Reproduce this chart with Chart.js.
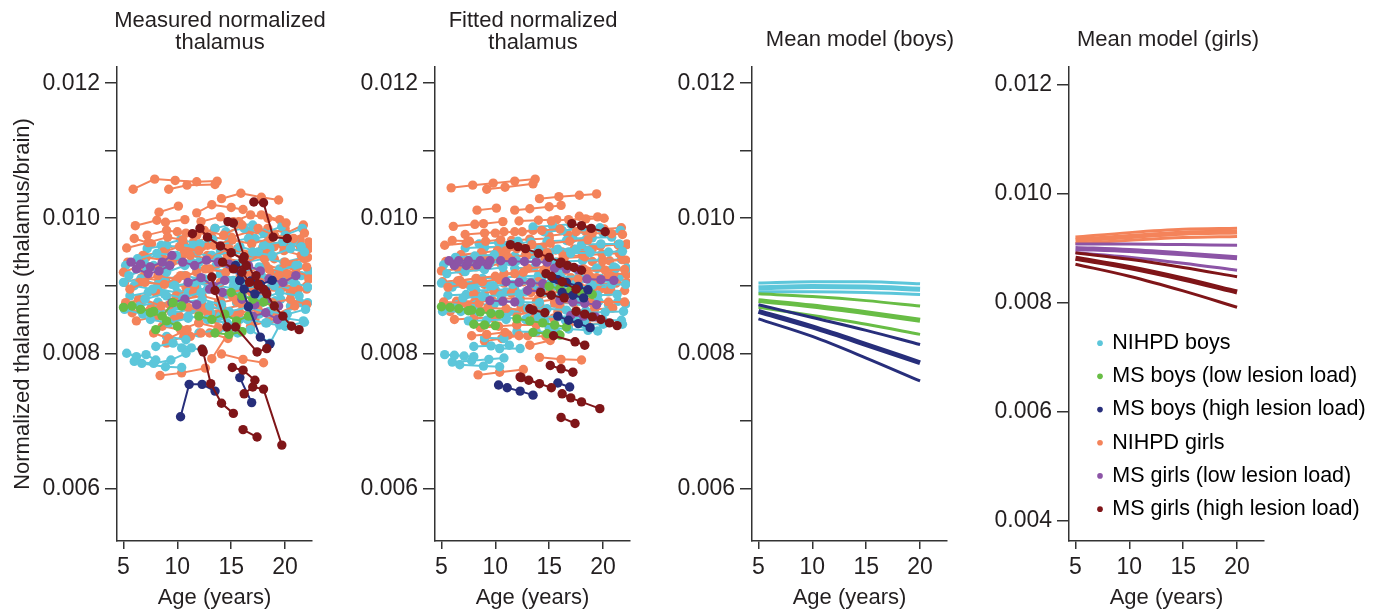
<!DOCTYPE html>
<html>
<head>
<meta charset="utf-8">
<script src="https://cdn.jsdelivr.net/npm/chart.js@4"></script>
<style>
  html, body { margin: 0; padding: 0; background: #fff; }
  #wrap { position: relative; width: 1380px; height: 614px; overflow: hidden; }
  #wrap canvas { position: absolute; top: 0; }
</style>
</head>
<body>
<div id="wrap">
  <canvas id="measured" width="340" height="614" style="left:0px"></canvas>
  <canvas id="fitted" width="330" height="614" style="left:340px"></canvas>
  <canvas id="boys" width="320" height="614" style="left:670px"></canvas>
  <canvas id="girls" width="390" height="614" style="left:990px"></canvas>
</div>
<script>
// ---- data ----
const ageTicks = [5, 10, 15, 20];
const thalamusTicks = [0.006, 0.007, 0.008, 0.009, 0.010, 0.011, 0.012];
const girlsTicks = [0.004, 0.006, 0.008, 0.010, 0.012];

const groupNames = ['NIHPD boys', 'MS boys (low lesion load)', 'MS boys (high lesion load)',
                    'NIHPD girls', 'MS girls (low lesion load)', 'MS girls (high lesion load)'];
const groupColors = ['#5cc6da', '#68bd45', '#272e7b', '#f4835a', '#8c54a6', '#7f1518'];

// measured trajectories, one [age, thalamus/brain] list per subject
const measuredNihpdGirls = [
  [[5.9,0.01043],[7.9,0.01058],[9.8,0.01056],[11.8,0.01054],[13.7,0.01055]],
  [[9.2,0.01043],[10.9,0.01049],[13.5,0.01050]],
  [[14.1,0.01029],[15.9,0.01037],[17.8,0.01031],[19.4,0.01027]],
  [[11.8,0.01008],[13.2,0.01020],[15.0,0.01016],[16.1,0.01013]],
  [[8.3,0.01009],[10.1,0.01018]],
  [[6.1,0.00989],[8.1,0.00997],[8.9,0.00994],[10.7,0.00998]],
  [[5.3,0.00956],[7.3,0.00964],[9.1,0.00972],[10.5,0.00968]],
  [[15.2,0.00995],[16.8,0.01005],[18.4,0.01000],[20.1,0.00993]],
  [[12.5,0.00982],[14.3,0.00975],[16.0,0.00990]],
  [[17.5,0.00985],[19.0,0.00975],[20.8,0.00970],[21.8,0.00978]],
  [[5.0,0.00920],[6.6,0.00930],[8.2,0.00925]],
  [[5.6,0.00895],[7.0,0.00905],[8.8,0.00902],[10.3,0.00915]],
  [[6.8,0.00945],[8.7,0.00950],[10.2,0.00958],[12.0,0.00952]],
  [[9.5,0.00935],[11.2,0.00945],[12.9,0.00940],[14.8,0.00955]],
  [[10.8,0.00915],[12.6,0.00925],[14.5,0.00920]],
  [[13.4,0.00960],[15.1,0.00968],[16.9,0.00962],[18.6,0.00970]],
  [[16.3,0.00945],[18.1,0.00940],[19.9,0.00952],[21.5,0.00945]],
  [[18.5,0.00925],[20.2,0.00918],[22.0,0.00928]],
  [[5.2,0.00875],[6.9,0.00880],[8.5,0.00870]],
  [[7.5,0.00865],[9.3,0.00872],[11.0,0.00868],[12.8,0.00860]],
  [[6.2,0.00848],[8.0,0.00855],[9.7,0.00850]],
  [[11.5,0.00890],[13.3,0.00895],[15.1,0.00885],[16.9,0.00890]],
  [[14.0,0.00905],[15.8,0.00912],[17.7,0.00905],[19.4,0.00915]],
  [[17.2,0.00890],[19.0,0.00898],[20.7,0.00892]],
  [[19.5,0.00905],[21.2,0.00895],[22.2,0.00910]],
  [[8.4,0.00767],[10.4,0.00771],[12.6,0.00778]],
  [[13.2,0.00792],[15.1,0.00839]],
  [[14.1,0.00799],[16.1,0.00791],[18.0,0.00786]],
  [[7.8,0.00830],[9.2,0.00822],[10.9,0.00835]],
  [[9.0,0.00815],[10.6,0.00825],[12.2,0.00830]],
  [[12.0,0.00845],[13.8,0.00838],[15.5,0.00842]],
  [[15.8,0.00860],[17.5,0.00865],[19.2,0.00858],[20.9,0.00870]],
  [[18.8,0.00875],[20.5,0.00880],[22.0,0.00872]],
  [[10.0,0.00980],[11.8,0.00975],[13.5,0.00985]],
  [[16.5,0.00920],[18.2,0.00930],[19.8,0.00925]],
  [[12.4,0.00870],[14.2,0.00865],[16.0,0.00872]],
  [[6.5,0.00905],[8.2,0.00915],[10.0,0.00910],[11.8,0.00920]],
  [[20.0,0.00935],[21.8,0.00940]],
  [[14.6,0.00940],[16.4,0.00935],[18.3,0.00948]],
  [[17.8,0.01005],[19.5,0.00998]],
  [[11.0,0.00950],[12.8,0.00960],[14.4,0.00955]],
  [[8.0,0.00890],[9.9,0.00885],[11.6,0.00898]],
  [[15.5,0.00878],[17.3,0.00872]],
  [[21.0,0.00920],[22.2,0.00915]],
  [[5.4,0.00935],[7.1,0.00942],[8.9,0.00938],[10.6,0.00948]],
  [[7.2,0.00975],[9.0,0.00982],[10.8,0.00978]],
  [[12.2,0.00995],[14.0,0.01002],[15.7,0.00995]],
  [[15.0,0.00972],[16.7,0.00980],[18.4,0.00975],[20.0,0.00985]],
  [[18.0,0.00955],[19.7,0.00962],[21.4,0.00958],[22.2,0.00965]],
  [[9.0,0.00905],[10.8,0.00898],[12.6,0.00908]],
  [[13.0,0.00925],[14.8,0.00932],[16.6,0.00928]],
  [[5.8,0.00860],[7.6,0.00868],[9.4,0.00862]],
  [[10.2,0.00855],[12.0,0.00862],[13.7,0.00858]],
  [[14.5,0.00888],[16.3,0.00895],[18.1,0.00890],[19.9,0.00898]],
  [[17.0,0.00910],[18.8,0.00918],[20.5,0.00912]],
  [[20.5,0.00890],[22.0,0.00895]],
  [[8.6,0.00840],[10.3,0.00835],[12.0,0.00845]],
  [[11.2,0.00825],[13.0,0.00830],[14.7,0.00822]],
  [[16.8,0.00840],[18.5,0.00848],[20.2,0.00842]],
  [[6.0,0.00970],[7.6,0.00962]],
  [[11.5,0.00965],[13.2,0.00972],[15.0,0.00968]],
  [[19.0,0.00940],[20.6,0.00930],[22.1,0.00942]],
  [[7.0,0.00920],[8.8,0.00928],[10.5,0.00935]],
  [[13.8,0.00875],[15.6,0.00880],[17.4,0.00885]],
  [[5.1,0.00905],[6.7,0.00912],[8.3,0.00908]],
  [[12.8,0.00945],[14.5,0.00950],[16.2,0.00942],[17.9,0.00955]],
  [[15.6,0.00955],[17.3,0.00948],[19.0,0.00958]],
  [[8.9,0.00955],[10.6,0.00962],[12.3,0.00958]],
  [[19.8,0.00960],[21.4,0.00968],[22.2,0.00955]],
  [[10.6,0.00880],[12.3,0.00885],[14.0,0.00878]],
  [[6.4,0.00880],[8.1,0.00872],[9.8,0.00878]],
  [[16.0,0.00900],[17.8,0.00895],[19.6,0.00905]],
  [[13.6,0.00850],[15.4,0.00856],[17.2,0.00850]],
  [[18.4,0.00985],[20.1,0.00978],[21.7,0.00990]]
];
const measuredNihpdBoys = [
  [[5.3,0.00800],[6.2,0.00795],[7.1,0.00798],[8.0,0.00790]],
  [[6.0,0.00788],[7.8,0.00785],[9.4,0.00790],[10.8,0.00800]],
  [[6.7,0.00785],[8.9,0.00780],[10.4,0.00779]],
  [[8.0,0.00810],[9.6,0.00815],[11.3,0.00808]],
  [[10.4,0.00808],[12.3,0.00806]],
  [[5.5,0.00915],[7.2,0.00925],[9.0,0.00920],[10.7,0.00930]],
  [[6.3,0.00940],[8.1,0.00948],[9.9,0.00945]],
  [[7.0,0.00880],[8.8,0.00888],[10.5,0.00882],[12.2,0.00890]],
  [[9.8,0.00900],[11.6,0.00905],[13.4,0.00898],[15.2,0.00908]],
  [[12.0,0.00935],[13.8,0.00940],[15.6,0.00932]],
  [[14.5,0.00980],[16.2,0.00985],[18.0,0.00978],[19.7,0.00988]],
  [[17.0,0.00950],[18.8,0.00945],[20.5,0.00955],[21.8,0.00950]],
  [[16.0,0.00885],[17.7,0.00880],[19.5,0.00890],[21.3,0.00885]],
  [[18.5,0.00862],[20.2,0.00858],[21.9,0.00865]],
  [[19.0,0.00900],[20.8,0.00905],[22.1,0.00898]],
  [[13.0,0.00870],[14.8,0.00862],[16.6,0.00868],[18.4,0.00860]],
  [[11.0,0.00855],[12.8,0.00850],[14.6,0.00845]],
  [[7.5,0.00850],[9.2,0.00845],[11.0,0.00852]],
  [[5.1,0.00865],[6.8,0.00858],[8.4,0.00862]],
  [[15.0,0.00840],[16.8,0.00835],[18.6,0.00815],[19.5,0.00842]],
  [[8.5,0.00960],[10.3,0.00968],[12.1,0.00962]],
  [[13.5,0.00985],[15.3,0.00992],[17.0,0.00990]],
  [[20.0,0.00975],[21.6,0.00985]],
  [[15.8,0.00920],[17.6,0.00928],[19.4,0.00922],[21.0,0.00930]],
  [[10.5,0.00875],[12.3,0.00880],[14.1,0.00872]],
  [[17.5,0.00905],[19.2,0.00910],[21.0,0.00902]],
  [[6.0,0.00900],[7.7,0.00895],[9.5,0.00902]],
  [[12.5,0.00910],[14.3,0.00915],[16.1,0.00908],[17.8,0.00915]],
  [[9.0,0.00825],[10.8,0.00820]],
  [[16.5,0.00850],[18.3,0.00845],[20.0,0.00852],[21.7,0.00848]],
  [[18.0,0.00960],[19.8,0.00965],[21.5,0.00958]],
  [[7.8,0.00930],[9.5,0.00938],[11.3,0.00935]],
  [[14.0,0.00952],[15.8,0.00958],[17.5,0.00950]],
  [[11.5,0.00960],[13.3,0.00968]],
  [[5.2,0.00930],[6.9,0.00935],[8.6,0.00930]],
  [[6.5,0.00870],[8.2,0.00876],[9.9,0.00870]],
  [[8.8,0.00910],[10.6,0.00915],[12.3,0.00910],[14.0,0.00918]],
  [[11.0,0.00890],[12.8,0.00895],[14.6,0.00888]],
  [[13.2,0.00945],[15.0,0.00950],[16.8,0.00945],[18.6,0.00955]],
  [[15.2,0.00900],[17.0,0.00895],[18.8,0.00902],[20.6,0.00895]],
  [[17.8,0.00875],[19.6,0.00880],[21.4,0.00875]],
  [[19.5,0.00925],[21.2,0.00930],[22.2,0.00922]],
  [[9.5,0.00860],[11.3,0.00865],[13.1,0.00860]],
  [[12.0,0.00830],[13.8,0.00835],[15.6,0.00830]],
  [[7.2,0.00955],[9.0,0.00960],[10.8,0.00955]],
  [[14.8,0.00965],[16.6,0.00970],[18.4,0.00965]],
  [[16.3,0.00935],[18.1,0.00940],[19.9,0.00935],[21.7,0.00942]],
  [[5.6,0.00885],[7.3,0.00890],[9.0,0.00885]],
  [[10.0,0.00940],[11.8,0.00948],[13.6,0.00942]],
  [[18.2,0.00845],[20.0,0.00840],[21.8,0.00846]],
  [[20.5,0.00870],[22.1,0.00875]],
  [[14.0,0.00855],[15.8,0.00850],[17.6,0.00858]],
  [[5.0,0.00905],[6.6,0.00910],[8.2,0.00902]],
  [[11.8,0.00925],[13.6,0.00930],[15.4,0.00925]],
  [[17.2,0.00970],[19.0,0.00975],[20.8,0.00968]],
  [[8.2,0.00895],[10.0,0.00890],[11.8,0.00898]],
  [[13.8,0.00900],[15.6,0.00895],[17.4,0.00905]],
  [[19.8,0.00910],[21.5,0.00915]],
  [[6.8,0.00940],[8.5,0.00945]],
  [[15.5,0.00875],[17.3,0.00870],[19.1,0.00878]]
];
const measuredMsGirlsLow = [
  [[5.7,0.00935],[6.6,0.00932],[7.5,0.00928],[8.6,0.00935],[9.5,0.00945]],
  [[6.2,0.00925],[7.3,0.00918],[8.3,0.00922],[9.3,0.00930]],
  [[10.5,0.00935],[11.6,0.00930],[12.7,0.00938],[13.8,0.00935],[14.8,0.00932]],
  [[11.0,0.00905],[12.2,0.00912],[13.3,0.00900],[14.4,0.00908]],
  [[15.5,0.00925],[16.6,0.00930],[17.7,0.00922]],
  [[16.0,0.00880],[17.2,0.00872],[18.3,0.00878],[19.4,0.00870]],
  [[9.5,0.00875],[10.7,0.00880],[11.8,0.00872]],
  [[18.5,0.00910],[19.8,0.00905],[21.0,0.00915]],
  [[13.0,0.00895],[14.2,0.00890]],
  [[17.0,0.00855],[18.2,0.00860],[19.3,0.00850]]
];
const measuredMsBoysLow = [
  [[5.0,0.00868],[5.8,0.00870],[6.6,0.00865],[7.8,0.00862]],
  [[7.5,0.00860],[8.6,0.00855],[9.6,0.00875],[10.4,0.00870]],
  [[8.0,0.00835],[9.0,0.00848],[10.0,0.00840]],
  [[12.0,0.00855],[13.2,0.00850],[14.4,0.00858],[15.5,0.00848],[16.6,0.00855]],
  [[15.0,0.00890],[16.0,0.00885],[17.0,0.00880],[18.0,0.00876],[19.0,0.00870]],
  [[13.5,0.00830],[14.8,0.00828],[16.0,0.00832]]
];
const measuredMsBoysHigh = [
  [[10.3,0.00706],[11.1,0.00754],[12.3,0.00754],[13.5,0.00744]],
  [[15.8,0.00764],[16.9,0.00727]],
  [[15.4,0.00930],[15.8,0.00908],[16.6,0.00869],[17.7,0.00824],[18.6,0.00814]],
  [[15.8,0.00908],[16.8,0.00907],[17.7,0.00902],[18.8,0.00908]],
  [[16.2,0.00895],[17.2,0.00888],[18.2,0.00892]]
];
const measuredMsGirlsHigh = [
  [[17.1,0.01024],[18.0,0.01023],[18.9,0.00972],[20.2,0.00970]],
  [[14.7,0.00995],[15.2,0.00993],[16.2,0.00943],[17.5,0.00902]],
  [[11.4,0.00977],[12.1,0.00985],[12.8,0.00972],[14.0,0.00959],[15.0,0.00949],[16.1,0.00939]],
  [[13.2,0.00913],[13.5,0.00893],[14.6,0.00839]],
  [[15.4,0.00839],[17.4,0.00802],[18.3,0.00807]],
  [[12.3,0.00806],[12.4,0.00802],[13.1,0.00755],[14.1,0.00726],[15.2,0.00711]],
  [[15.1,0.00779],[16.1,0.00775],[17.2,0.00760]],
  [[16.2,0.00740],[17.0,0.00750],[18.0,0.00747],[19.7,0.00664]],
  [[16.1,0.00687],[17.4,0.00676]],
  [[17.5,0.00900],[18.3,0.00888],[19.0,0.00870],[19.8,0.00855],[20.6,0.00840],[21.3,0.00835]],
  [[16.0,0.00920],[16.7,0.00905],[17.3,0.00915],[18.0,0.00895]],
  [[14.2,0.00935],[15.2,0.00925],[16.4,0.00930]]
];

// fitted trajectories, same subjects and ages
const fittedNihpdGirls = [
  [[5.9,0.01045],[7.9,0.01049],[9.8,0.01052],[11.8,0.01055],[13.7,0.01058]],
  [[9.2,0.01043],[10.9,0.01046],[13.5,0.01051]],
  [[14.1,0.01029],[15.9,0.01032],[17.8,0.01034],[19.4,0.01036]],
  [[11.8,0.01012],[13.2,0.01014],[15.0,0.01017],[16.1,0.01019]],
  [[8.3,0.01012],[10.1,0.01015]],
  [[6.1,0.00988],[8.1,0.00991],[8.9,0.00992],[10.7,0.00995]],
  [[5.3,0.00960],[7.3,0.00963],[9.1,0.00966],[10.5,0.00968]],
  [[15.2,0.00996],[16.8,0.00998],[18.4,0.00999],[20.1,0.01000]],
  [[12.5,0.00980],[14.3,0.00982],[16.0,0.00984]],
  [[17.5,0.00980],[19.0,0.00978],[20.8,0.00977],[21.8,0.00976]],
  [[5.0,0.00922],[6.6,0.00925],[8.2,0.00928]],
  [[5.6,0.00898],[7.0,0.00902],[8.8,0.00906],[10.3,0.00910]],
  [[6.8,0.00946],[8.7,0.00949],[10.2,0.00952],[12.0,0.00955]],
  [[9.5,0.00938],[11.2,0.00942],[12.9,0.00945],[14.8,0.00949]],
  [[10.8,0.00918],[12.6,0.00920],[14.5,0.00923]],
  [[13.4,0.00961],[15.1,0.00963],[16.9,0.00966],[18.6,0.00968]],
  [[16.3,0.00944],[18.1,0.00945],[19.9,0.00947],[21.5,0.00948]],
  [[18.5,0.00922],[20.2,0.00923],[22.0,0.00924]],
  [[5.2,0.00876],[6.9,0.00875],[8.5,0.00874]],
  [[7.5,0.00867],[9.3,0.00867],[11.0,0.00866],[12.8,0.00865]],
  [[6.2,0.00850],[8.0,0.00852],[9.7,0.00853]],
  [[11.5,0.00889],[13.3,0.00890],[15.1,0.00890],[16.9,0.00891]],
  [[14.0,0.00906],[15.8,0.00908],[17.7,0.00910],[19.4,0.00912]],
  [[17.2,0.00892],[19.0,0.00894],[20.7,0.00895]],
  [[19.5,0.00902],[21.2,0.00904],[22.2,0.00905]],
  [[8.4,0.00768],[10.4,0.00772],[12.6,0.00776]],
  [[13.2,0.00812],[15.1,0.00819]],
  [[14.1,0.00794],[16.1,0.00791],[18.0,0.00790]],
  [[7.8,0.00826],[9.2,0.00828],[10.9,0.00831]],
  [[9.0,0.00818],[10.6,0.00822],[12.2,0.00826]],
  [[12.0,0.00842],[13.8,0.00842],[15.5,0.00842]],
  [[15.8,0.00861],[17.5,0.00863],[19.2,0.00865],[20.9,0.00867]],
  [[18.8,0.00876],[20.5,0.00876],[22.0,0.00876]],
  [[10.0,0.00978],[11.8,0.00980],[13.5,0.00982]],
  [[16.5,0.00923],[18.2,0.00925],[19.8,0.00927]],
  [[12.4,0.00868],[14.2,0.00869],[16.0,0.00870]],
  [[6.5,0.00907],[8.2,0.00911],[10.0,0.00914],[11.8,0.00918]],
  [[20.0,0.00937],[21.8,0.00939]],
  [[14.6,0.00939],[16.4,0.00941],[18.3,0.00943]],
  [[17.8,0.01003],[19.5,0.01002]],
  [[11.0,0.00952],[12.8,0.00955],[14.4,0.00957]],
  [[8.0,0.00888],[9.9,0.00891],[11.6,0.00894]],
  [[15.5,0.00876],[17.3,0.00875]],
  [[21.0,0.00918],[22.2,0.00917]],
  [[5.4,0.00936],[7.1,0.00940],[8.9,0.00943],[10.6,0.00946]],
  [[7.2,0.00976],[9.0,0.00978],[10.8,0.00980]],
  [[12.2,0.00996],[14.0,0.00997],[15.7,0.00998]],
  [[15.0,0.00974],[16.7,0.00977],[18.4,0.00980],[20.0,0.00983]],
  [[18.0,0.00957],[19.7,0.00959],[21.4,0.00961],[22.2,0.00962]],
  [[9.0,0.00902],[10.8,0.00904],[12.6,0.00906]],
  [[13.0,0.00926],[14.8,0.00928],[16.6,0.00930]],
  [[5.8,0.00862],[7.6,0.00864],[9.4,0.00865]],
  [[10.2,0.00856],[12.0,0.00858],[13.7,0.00860]],
  [[14.5,0.00889],[16.3,0.00891],[18.1,0.00894],[19.9,0.00896]],
  [[17.0,0.00912],[18.8,0.00914],[20.5,0.00915]],
  [[20.5,0.00891],[22.0,0.00893]],
  [[8.6,0.00838],[10.3,0.00840],[12.0,0.00842]],
  [[11.2,0.00827],[13.0,0.00826],[14.7,0.00825]],
  [[16.8,0.00842],[18.5,0.00843],[20.2,0.00845]],
  [[6.0,0.00967],[7.6,0.00966]],
  [[11.5,0.00967],[13.2,0.00969],[15.0,0.00970]],
  [[19.0,0.00936],[20.6,0.00937],[22.1,0.00938]],
  [[7.0,0.00921],[8.8,0.00927],[10.5,0.00933]],
  [[13.8,0.00876],[15.6,0.00880],[17.4,0.00884]],
  [[5.1,0.00906],[6.7,0.00908],[8.3,0.00910]],
  [[12.8,0.00946],[14.5,0.00948],[16.2,0.00950],[17.9,0.00952]],
  [[15.6,0.00953],[17.3,0.00954],[19.0,0.00955]],
  [[8.9,0.00956],[10.6,0.00958],[12.3,0.00960]],
  [[19.8,0.00960],[21.4,0.00961],[22.2,0.00961]],
  [[10.6,0.00881],[12.3,0.00881],[14.0,0.00881]],
  [[6.4,0.00877],[8.1,0.00877],[9.8,0.00877]],
  [[16.0,0.00899],[17.8,0.00900],[19.6,0.00902]],
  [[13.6,0.00852],[15.4,0.00852],[17.2,0.00852]],
  [[18.4,0.00983],[20.1,0.00984],[21.7,0.00986]]
];
const fittedNihpdBoys = [
  [[5.3,0.00798],[6.2,0.00797],[7.1,0.00796],[8.0,0.00795]],
  [[6.0,0.00787],[7.8,0.00789],[9.4,0.00791],[10.8,0.00793]],
  [[6.7,0.00783],[8.9,0.00781],[10.4,0.00780]],
  [[8.0,0.00810],[9.6,0.00811],[11.3,0.00812]],
  [[10.4,0.00807],[12.3,0.00807]],
  [[5.5,0.00918],[7.2,0.00921],[9.0,0.00924],[10.7,0.00927]],
  [[6.3,0.00942],[8.1,0.00944],[9.9,0.00946]],
  [[7.0,0.00882],[8.8,0.00884],[10.5,0.00886],[12.2,0.00888]],
  [[9.8,0.00900],[11.6,0.00902],[13.4,0.00904],[15.2,0.00906]],
  [[12.0,0.00937],[13.8,0.00936],[15.6,0.00935]],
  [[14.5,0.00980],[16.2,0.00982],[18.0,0.00984],[19.7,0.00986]],
  [[17.0,0.00948],[18.8,0.00949],[20.5,0.00950],[21.8,0.00951]],
  [[16.0,0.00883],[17.7,0.00884],[19.5,0.00886],[21.3,0.00887]],
  [[18.5,0.00860],[20.2,0.00861],[21.9,0.00862]],
  [[19.0,0.00901],[20.8,0.00902],[22.1,0.00902]],
  [[13.0,0.00867],[14.8,0.00866],[16.6,0.00864],[18.4,0.00863]],
  [[11.0,0.00853],[12.8,0.00850],[14.6,0.00847]],
  [[7.5,0.00848],[9.2,0.00849],[11.0,0.00850]],
  [[5.1,0.00862],[6.8,0.00862],[8.4,0.00862]],
  [[15.0,0.00838],[16.8,0.00836],[18.6,0.00834],[19.5,0.00833]],
  [[8.5,0.00962],[10.3,0.00964],[12.1,0.00966]],
  [[13.5,0.00987],[15.3,0.00989],[17.0,0.00991]],
  [[20.0,0.00978],[21.6,0.00982]],
  [[15.8,0.00922],[17.6,0.00924],[19.4,0.00926],[21.0,0.00928]],
  [[10.5,0.00877],[12.3,0.00876],[14.1,0.00875]],
  [[17.5,0.00906],[19.2,0.00906],[21.0,0.00906]],
  [[6.0,0.00898],[7.7,0.00899],[9.5,0.00900]],
  [[12.5,0.00910],[14.3,0.00912],[16.1,0.00913],[17.8,0.00914]],
  [[9.0,0.00823],[10.8,0.00822]],
  [[16.5,0.00849],[18.3,0.00849],[20.0,0.00849],[21.7,0.00849]],
  [[18.0,0.00961],[19.8,0.00962],[21.5,0.00962]],
  [[7.8,0.00932],[9.5,0.00934],[11.3,0.00936]],
  [[14.0,0.00954],[15.8,0.00954],[17.5,0.00954]],
  [[11.5,0.00962],[13.3,0.00965]],
  [[5.2,0.00931],[6.9,0.00932],[8.6,0.00933]],
  [[6.5,0.00872],[8.2,0.00872],[9.9,0.00873]],
  [[8.8,0.00911],[10.6,0.00912],[12.3,0.00914],[14.0,0.00915]],
  [[11.0,0.00891],[12.8,0.00891],[14.6,0.00891]],
  [[13.2,0.00946],[15.0,0.00948],[16.8,0.00950],[18.6,0.00952]],
  [[15.2,0.00898],[17.0,0.00898],[18.8,0.00898],[20.6,0.00898]],
  [[17.8,0.00877],[19.6,0.00877],[21.4,0.00877]],
  [[19.5,0.00926],[21.2,0.00926],[22.2,0.00926]],
  [[9.5,0.00862],[11.3,0.00862],[13.1,0.00862]],
  [[12.0,0.00832],[13.8,0.00832],[15.6,0.00832]],
  [[7.2,0.00956],[9.0,0.00957],[10.8,0.00958]],
  [[14.8,0.00966],[16.6,0.00967],[18.4,0.00968]],
  [[16.3,0.00936],[18.1,0.00937],[19.9,0.00938],[21.7,0.00939]],
  [[5.6,0.00886],[7.3,0.00887],[9.0,0.00887]],
  [[10.0,0.00942],[11.8,0.00944],[13.6,0.00946]],
  [[18.2,0.00843],[20.0,0.00843],[21.8,0.00843]],
  [[20.5,0.00872],[22.1,0.00873]],
  [[14.0,0.00854],[15.8,0.00854],[17.6,0.00854]],
  [[5.0,0.00904],[6.6,0.00905],[8.2,0.00906]],
  [[11.8,0.00926],[13.6,0.00927],[15.4,0.00928]],
  [[17.2,0.00970],[19.0,0.00971],[20.8,0.00972]],
  [[8.2,0.00893],[10.0,0.00894],[11.8,0.00895]],
  [[13.8,0.00899],[15.6,0.00900],[17.4,0.00901]],
  [[19.8,0.00911],[21.5,0.00912]],
  [[6.8,0.00941],[8.5,0.00942]],
  [[15.5,0.00874],[17.3,0.00874],[19.1,0.00874]]
];
const fittedMsGirlsLow = [
  [[5.7,0.00937],[6.6,0.00937],[7.5,0.00937],[8.6,0.00937],[9.5,0.00937]],
  [[6.2,0.00930],[7.3,0.00930],[8.3,0.00931],[9.3,0.00931]],
  [[10.5,0.00937],[11.6,0.00936],[12.7,0.00936],[13.8,0.00935],[14.8,0.00935]],
  [[11.0,0.00906],[12.2,0.00905],[13.3,0.00904],[14.4,0.00903]],
  [[15.5,0.00926],[16.6,0.00925],[17.7,0.00924]],
  [[16.0,0.00878],[17.2,0.00876],[18.3,0.00874],[19.4,0.00872]],
  [[9.5,0.00878],[10.7,0.00877],[11.8,0.00876]],
  [[18.5,0.00910],[19.8,0.00909],[21.0,0.00908]],
  [[13.0,0.00893],[14.2,0.00892]],
  [[17.0,0.00856],[18.2,0.00855],[19.3,0.00854]]
];
const fittedMsBoysLow = [
  [[5.0,0.00869],[5.8,0.00868],[6.6,0.00866],[7.8,0.00864]],
  [[7.5,0.00863],[8.6,0.00861],[9.6,0.00859],[10.4,0.00858]],
  [[8.0,0.00843],[9.0,0.00842],[10.0,0.00841]],
  [[12.0,0.00851],[13.2,0.00848],[14.4,0.00845],[15.5,0.00842],[16.6,0.00839]],
  [[15.0,0.00899],[16.0,0.00896],[17.0,0.00893],[18.0,0.00890],[19.0,0.00887]],
  [[13.5,0.00831],[14.8,0.00829],[16.0,0.00827]]
];
const fittedMsBoysHigh = [
  [[10.3,0.00753],[11.1,0.00749],[12.3,0.00744],[13.5,0.00738]],
  [[15.8,0.00756],[16.9,0.00750]],
  [[15.4,0.00911],[15.8,0.00909],[16.6,0.00905],[17.7,0.00899],[18.6,0.00894]],
  [[15.8,0.00855],[16.8,0.00849],[17.7,0.00844],[18.8,0.00838]],
  [[16.2,0.00890],[17.2,0.00886],[18.2,0.00882]]
];
const fittedMsGirlsHigh = [
  [[17.1,0.00992],[18.0,0.00989],[18.9,0.00985],[20.2,0.00980]],
  [[14.7,0.00918],[15.2,0.00914],[16.2,0.00906],[17.5,0.00895]],
  [[11.4,0.00961],[12.1,0.00958],[12.8,0.00955],[14.0,0.00948],[15.0,0.00942],[16.1,0.00935]],
  [[13.2,0.00866],[13.5,0.00864],[14.6,0.00860]],
  [[15.4,0.00826],[17.4,0.00817],[18.3,0.00812]],
  [[12.3,0.00765],[12.4,0.00764],[13.1,0.00760],[14.1,0.00755],[15.2,0.00749]],
  [[15.1,0.00782],[16.1,0.00777],[17.2,0.00772]],
  [[16.2,0.00740],[17.0,0.00734],[18.0,0.00728],[19.7,0.00718]],
  [[16.1,0.00705],[17.4,0.00696]],
  [[17.5,0.00862],[18.3,0.00858],[19.0,0.00854],[19.8,0.00850],[20.6,0.00845],[21.3,0.00841]],
  [[16.0,0.00933],[16.7,0.00930],[17.3,0.00927],[18.0,0.00923]],
  [[14.2,0.00890],[15.2,0.00886],[16.4,0.00882]]
];

// mean model curves: [upper, mean, lower] at modelAges
const modelAges = [5, 10, 15, 20];
const modelNihpdBoys = [
  [0.00904, 0.00906, 0.00906, 0.00903],
  [0.00897, 0.00899, 0.00898, 0.00895],
  [0.00891, 0.00891, 0.00890, 0.00887]
];
const modelMsBoysLow = [
  [0.00888, 0.00884, 0.00878, 0.00870],
  [0.00878, 0.00870, 0.00860, 0.00849],
  [0.00868, 0.00856, 0.00843, 0.00828]
];
const modelMsBoysHigh = [
  [0.00872, 0.00853, 0.00834, 0.00813],
  [0.00862, 0.00839, 0.00813, 0.00786],
  [0.00851, 0.00825, 0.00793, 0.00759]
];
const modelNihpdGirls = [
  [0.00921, 0.00929, 0.00935, 0.00937],
  [0.00915, 0.00922, 0.00928, 0.00930],
  [0.00909, 0.00915, 0.00920, 0.00922]
];
const modelMsGirlsLow = [
  [0.00908, 0.00908, 0.00907, 0.00906],
  [0.00900, 0.00896, 0.00890, 0.00883],
  [0.00892, 0.00884, 0.00873, 0.00860]
];
const modelMsGirlsHigh = [
  [0.00892, 0.00880, 0.00865, 0.00848],
  [0.00882, 0.00865, 0.00844, 0.00820],
  [0.00871, 0.00849, 0.00822, 0.00792]
];

// ---- drawing ----
const TICK_FONT = 23;
const TEXT_FONT = 22;
const LEGEND_FONT = 21.5;
const INK = '#231f20';
const AXIS = '#333333';
Chart.defaults.font.family = "'Liberation Sans', Arial, Helvetica, sans-serif";
Chart.defaults.font.size = TEXT_FONT;
Chart.defaults.color = INK;

// let a panel title sit on its own centre without being squeezed to the plot width
const titleSpot = {
  id: 'titleSpot',
  afterLayout(chart, args, opts) {
    const t = chart.titleBlock;
    if (!t || opts.center == null) return;
    t.left = opts.center - 160;
    t.right = opts.center + 160;
    t.width = 320;
  }
};
Chart.register(titleSpot);

function subjectSets(subjects, color) {
  return subjects.map(pts => ({
    data: pts.map(p => ({x: p[0], y: p[1]})),
    showLine: true,
    borderColor: color,
    backgroundColor: color,
    borderWidth: 2,
    pointRadius: 4.7,
    pointBorderWidth: 0,
    pointHoverRadius: 4.7
  }));
}

function interleave(a, b) {
  const out = [];
  for (let i = 0; i < Math.max(a.length, b.length); i++) {
    if (a[i]) out.push(a[i]);
    if (b[i]) out.push(b[i]);
  }
  return out;
}

function modelSets(lines, color) {
  return lines.map((vals, i) => ({
    data: modelAges.map((a, j) => ({x: a, y: vals[j]})),
    showLine: true,
    borderColor: color,
    backgroundColor: color,
    borderWidth: i === 1 ? 5 : 3,
    pointRadius: 0,
    cubicInterpolationMode: 'monotone',
    borderCapStyle: 'butt'
  }));
}

function buildScales(p) {
  return {
    x: {
      type: 'linear', min: 4.4, max: 22.5,
      afterBuildTicks: s => { s.ticks = ageTicks.map(v => ({value: v})); },
      afterFit: s => { s.height = 73; },
      border: {display: true, color: AXIS, width: 1.5},
      grid: {display: true, drawOnChartArea: false, drawTicks: true, tickLength: 8, color: AXIS, lineWidth: 1.5},
      ticks: {color: INK, padding: 5, maxRotation: 0, font: {size: TICK_FONT}, callback: v => String(v)},
      title: {display: true, text: 'Age (years)', color: INK, font: {size: TEXT_FONT}, padding: {top: 0, bottom: 3}}
    },
    y: {
      type: 'linear', min: p.yMin, max: p.yMax,
      afterBuildTicks: s => { s.ticks = p.yTicks.map(v => ({value: v})); },
      afterFit: s => { s.width = p.yWidth; },
      border: {display: true, color: AXIS, width: 1.5},
      grid: {display: true, drawOnChartArea: false, drawTicks: true, tickLength: 12, color: AXIS, lineWidth: 1.5},
      ticks: {color: INK, padding: 5, font: {size: TICK_FONT},
        callback: v => (p.everyLabel || Math.round(v * 1000) % 2 === 0) ? v.toFixed(3) : ''},
      title: p.yTitle
        ? {display: true, text: p.yTitle, color: INK, font: {size: TEXT_FONT}, padding: {top: 10, bottom: 0}}
        : {display: false}
    }
  };
}

function titleOpts(text, twoLines) {
  return {
    display: true, text: text, fullSize: false, color: INK,
    font: {size: TEXT_FONT, weight: 'normal', lineHeight: 1},
    padding: twoLines ? {top: 9.5, bottom: 13.5} : {top: 29, bottom: 16}
  };
}

function makeChart(id, datasets, p, extra) {
  const plugins = Object.assign({
    legend: {display: false},
    tooltip: {enabled: false},
    title: titleOpts(p.title, Array.isArray(p.title)),
    titleSpot: {center: p.titleCenter}
  }, extra ? extra.plugins : {});
  return new Chart(document.getElementById(id), {
    type: 'scatter',
    data: {datasets: datasets},
    options: {
      responsive: false,
      animation: false,
      events: [],
      layout: {padding: {left: 0, right: p.padRight, top: 0, bottom: 0}},
      plugins: plugins,
      scales: buildScales(p)
    },
    plugins: extra ? extra.inline : []
  });
}

function spaghetti(groups) {
  // first dataset is drawn on top
  return [].concat(
    subjectSets(groups.msGirlsHigh, groupColors[5]),
    subjectSets(groups.msBoysHigh, groupColors[2]),
    subjectSets(groups.msBoysLow, groupColors[1]),
    subjectSets(groups.msGirlsLow, groupColors[4]),
    interleave(subjectSets(groups.nihpdGirls, groupColors[3]), subjectSets(groups.nihpdBoys, groupColors[0]))
  );
}

const thalamusPanel = {yMin: 0.00522, yMax: 0.01224, yTicks: thalamusTicks, everyLabel: false};

makeChart('measured', spaghetti({
  msGirlsHigh: measuredMsGirlsHigh, msBoysHigh: measuredMsBoysHigh, msBoysLow: measuredMsBoysLow,
  msGirlsLow: measuredMsGirlsLow, nihpdGirls: measuredNihpdGirls, nihpdBoys: measuredNihpdBoys
}), Object.assign({}, thalamusPanel, {
  title: ['Measured normalized', 'thalamus'], titleCenter: 220, yWidth: 117, padRight: 28,
  yTitle: 'Normalized thalamus (thalamus/brain)'
}));

makeChart('fitted', spaghetti({
  msGirlsHigh: fittedMsGirlsHigh, msBoysHigh: fittedMsBoysHigh, msBoysLow: fittedMsBoysLow,
  msGirlsLow: fittedMsGirlsLow, nihpdGirls: fittedNihpdGirls, nihpdBoys: fittedNihpdBoys
}), Object.assign({}, thalamusPanel, {
  title: ['Fitted normalized', 'thalamus'], titleCenter: 193, yWidth: 95, padRight: 40
}));

makeChart('boys', [].concat(
  modelSets(modelMsBoysHigh, groupColors[2]),
  modelSets(modelMsBoysLow, groupColors[1]),
  modelSets(modelNihpdBoys, groupColors[0])
), Object.assign({}, thalamusPanel, {
  title: 'Mean model (boys)', titleCenter: 190, yWidth: 82, padRight: 43
}));

// legend sits inside the girls panel, spilling past the plot's right edge
const legendSpot = {
  id: 'legendSpot',
  afterLayout(chart) {
    const lg = chart.legend;
    if (!lg) return;
    lg.left = 96.8;
    lg.top = 320.7;
    lg.right = chart.width;
    lg.bottom = chart.height;
    lg.width = lg.right - lg.left;
    lg.height = lg.bottom - lg.top;
  }
};

makeChart('girls', [].concat(
  modelSets(modelMsGirlsHigh, groupColors[5]),
  modelSets(modelMsGirlsLow, groupColors[4]),
  modelSets(modelNihpdGirls, groupColors[3])
), {
  yMin: 0.00363, yMax: 0.01233, yTicks: girlsTicks, everyLabel: true,
  title: 'Mean model (girls)', titleCenter: 178, yWidth: 79, padRight: 116
}, {
  plugins: {
    legend: {
      display: true, position: 'chartArea', align: 'start',
      labels: {
        color: INK, font: {size: LEGEND_FONT}, usePointStyle: true, pointStyle: 'circle',
        boxWidth: 3, boxHeight: 4, padding: 11.7,
        generateLabels: () => groupNames.map((name, i) => ({
          text: name, fillStyle: groupColors[i], strokeStyle: groupColors[i],
          lineWidth: 0, pointStyle: 'circle', hidden: false
        }))
      }
    }
  },
  inline: [legendSpot]
});
</script>
</body>
</html>
